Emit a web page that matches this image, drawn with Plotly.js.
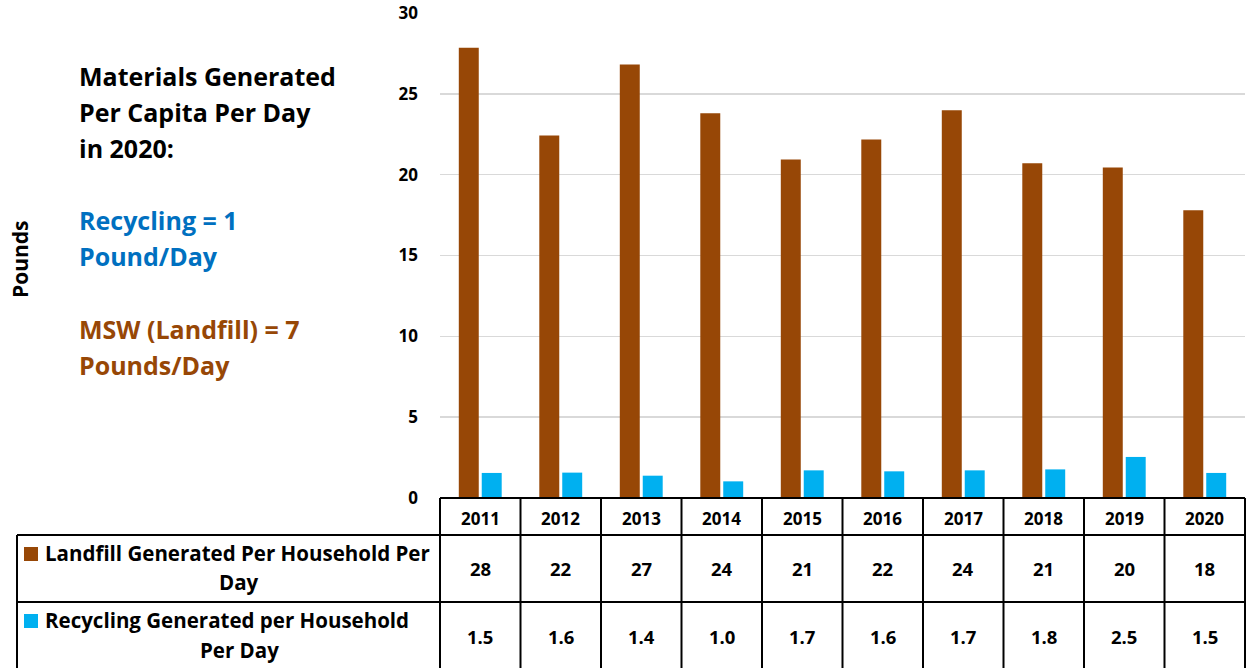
<!DOCTYPE html>
<html>
<head>
<meta charset="utf-8">
<script src="https://cdn.plot.ly/plotly-3.0.1.min.js"></script>
<style>html,body{margin:0;padding:0;background:#fff;}#chart{width:1247px;height:668px;}</style>
</head>
<body>
<div id="chart"></div>
<script>
// ---- data ----
const years = ['2011','2012','2013','2014','2015','2016','2017','2018','2019','2020'];
const landfill = [27.85, 22.43, 26.82, 23.8, 20.94, 22.18, 23.98, 20.7, 20.45, 17.8];
const recycling = [1.55, 1.57, 1.38, 1.03, 1.71, 1.65, 1.71, 1.77, 2.54, 1.55];
const landfillLabels = ['28','22','27','24','21','22','24','21','20','18'];
const recyclingLabels = ['1.5','1.6','1.4','1.0','1.7','1.6','1.7','1.8','2.5','1.5'];
const seriesNames = ['Landfill Generated Per Household Per Day', 'Recycling Generated per Household Per Day'];
const yTicks = [0, 5, 10, 15, 20, 25, 30];

// ---- layout helpers (pixel -> paper) ----
const W = 1247, H = 668;
const L = 440, R = 1245, T = 13, B = 498;
const pw = R - L, ph = B - T;
const px = p => (p - L) / pw;
const py = p => (B - p) / ph;

const brown = '#974706', blue = '#00B0F0';
const FONT = '"Open Sans", Lato, "DejaVu Sans", sans-serif';

const traces = [
  {type: 'bar', name: seriesNames[0], x: years, y: landfill, marker: {color: brown, line: {width: 0}}, hoverinfo: 'skip'},
  {type: 'bar', name: seriesNames[1], x: years, y: recycling, marker: {color: blue, line: {width: 0}}, hoverinfo: 'skip'}
];

const shapes = [];
const annotations = [];
const lineStyle = {color: '#000', width: 2};

// table geometry (pixels)
const hdrTop = 498, hdrBot = 535, r1Bot = 602, r2Bot = 700;
const labL = 17;
shapes.push({type: 'line', xref: 'paper', yref: 'paper', x0: px(L), x1: px(R), y0: py(hdrTop), y1: py(hdrTop), line: lineStyle});
shapes.push({type: 'line', xref: 'paper', yref: 'paper', x0: px(labL), x1: px(R), y0: py(hdrBot), y1: py(hdrBot), line: lineStyle});
shapes.push({type: 'line', xref: 'paper', yref: 'paper', x0: px(labL), x1: px(R), y0: py(r1Bot), y1: py(r1Bot), line: lineStyle});
const n = years.length;
for (let i = 0; i <= n; i++) {
  const xp = i / n;
  shapes.push({type: 'line', xref: 'paper', yref: 'paper', x0: xp, x1: xp, y0: py(hdrTop), y1: py(r2Bot), line: lineStyle});
}
shapes.push({type: 'line', xref: 'paper', yref: 'paper', x0: px(labL), x1: px(labL), y0: py(hdrBot), y1: py(r2Bot), line: lineStyle});

// legend keys
shapes.push({type: 'rect', xref: 'paper', yref: 'paper', x0: px(24), x1: px(38), y0: py(547), y1: py(561), fillcolor: brown, line: {width: 0}});
shapes.push({type: 'rect', xref: 'paper', yref: 'paper', x0: px(24), x1: px(38), y0: py(614), y1: py(628), fillcolor: blue, line: {width: 0}});

// table text
for (let i = 0; i < n; i++) {
  const xc = (i + 0.5) / n;
  annotations.push({xref: 'paper', yref: 'paper', x: xc, y: py(518), text: '<b>' + years[i] + '</b>', showarrow: false, xanchor: 'center', yanchor: 'middle', font: {family: FONT, size: 17, color: '#000'}});
  annotations.push({xref: 'paper', yref: 'paper', x: xc, y: py(568), text: '<b>' + landfillLabels[i] + '</b>', showarrow: false, xanchor: 'center', yanchor: 'middle', font: {family: FONT, size: 18.5, color: '#000'}});
  annotations.push({xref: 'paper', yref: 'paper', x: xc, y: py(637), text: '<b>' + recyclingLabels[i] + '</b>', showarrow: false, xanchor: 'center', yanchor: 'middle', font: {family: FONT, size: 18.5, color: '#000'}});
}
const lab = (t, xpix, ypix, anchor) => annotations.push({xref: 'paper', yref: 'paper', x: px(xpix), y: py(ypix), text: '<b>' + t + '</b>', showarrow: false, xanchor: anchor, yanchor: 'middle', font: {family: FONT, size: 20.5, color: '#000'}});
lab('Landfill Generated Per Household Per', 43, 553, 'left');
lab('Day', 239, 582, 'center');
lab('Recycling Generated per Household', 43, 620, 'left');
lab('Per Day', 239, 650, 'center');

// left side note text
const note = (t, ypix, color) => annotations.push({xref: 'paper', yref: 'paper', x: px(77), y: py(ypix), text: '<b>' + t + '</b>', showarrow: false, xanchor: 'left', yanchor: 'middle', font: {family: FONT, size: 25, color: color}});
note('Materials Generated', 76, '#000');
note('Per Capita Per Day', 112, '#000');
note('in 2020:', 148, '#000');
note('Recycling = 1', 220, '#0070C0');
note('Pound/Day', 256, '#0070C0');
note('MSW (Landfill) = 7', 329, '#974706');
note('Pounds/Day', 365, '#974706');

// y-axis title
annotations.push({xref: 'paper', yref: 'paper', x: px(20), y: py(259), text: '<b>Pounds</b>', textangle: -90, showarrow: false, xanchor: 'center', yanchor: 'middle', font: {family: FONT, size: 21, color: '#000'}});

const layout = {
  width: W, height: H,
  margin: {l: L, r: W - R, t: T, b: H - B, pad: 0},
  paper_bgcolor: '#fff', plot_bgcolor: '#fff',
  showlegend: false,
  barmode: 'group', bargap: 0.43, bargroupgap: 0.13,
  xaxis: {type: 'category', showticklabels: false, showgrid: false, zeroline: false, showline: false, ticks: ''},
  yaxis: {range: [0, 30], tickvals: yTicks, ticktext: yTicks.map(String), showgrid: true, gridcolor: '#D9D9D9', gridwidth: 1.5, zeroline: false, showline: false, ticks: '', ticklabelstandoff: 21,
          tickfont: {family: FONT, size: 17, color: '#000', weight: 700}},
  shapes: shapes,
  annotations: annotations,
  font: {family: FONT}
};

Plotly.newPlot('chart', traces, layout, {staticPlot: true, displayModeBar: false});
</script>
</body>
</html>
